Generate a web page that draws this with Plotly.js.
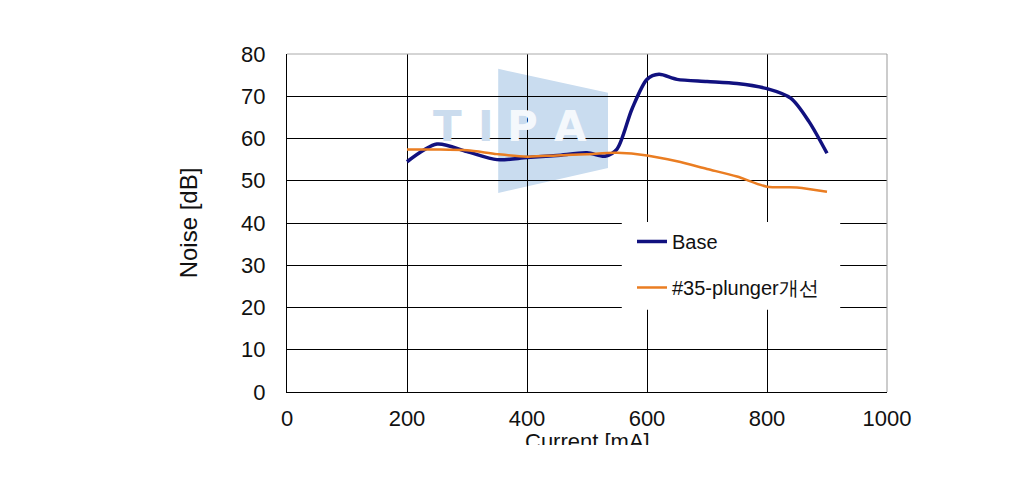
<!DOCTYPE html>
<html>
<head>
<meta charset="utf-8">
<script src="https://cdn.plot.ly/plotly-3.0.1.min.js"></script>
<style>
  html, body { margin: 0; padding: 0; background: #fff; }
  /* la imagen original corta el título del eje X por abajo */
  #wrap { width: 1027px; height: 445px; overflow: hidden; }
  #chart { width: 1027px; height: 481px; }
</style>
</head>
<body>
<div id="wrap"><div id="chart"></div></div>
<script>
// === Datos ===
const baseCurrent = [200, 250, 300, 350, 400, 450, 500, 530, 550, 575, 600, 620, 650, 700, 750, 800, 840, 870, 900];
const baseNoise   = [54.5, 58.7, 56.9, 55.0, 55.5, 56.0, 56.6, 55.8, 57.5, 67.0, 74.0, 75.2, 74.0, 73.5, 73.0, 71.8, 69.5, 64.0, 56.5];

const plungerCurrent = [200, 250, 300, 350, 400, 450, 500, 550, 600, 650, 700, 750, 800, 850, 900];
const plungerNoise   = [57.4, 57.4, 57.2, 56.3, 55.7, 56.0, 56.3, 56.6, 56.0, 54.6, 52.8, 51.0, 48.6, 48.4, 47.4];

const seriesNames = ["Base", "#35-plunger개선"];
const xTicks = [0, 200, 400, 600, 800, 1000];
const yTicks = [0, 10, 20, 30, 40, 50, 60, 70, 80];

const font = "Liberation Sans, Arial, sans-serif";

const traces = [
  {
    x: baseCurrent, y: baseNoise, name: seriesNames[0], legendgroup: "a",
    mode: "lines", line: { color: "#11117f", width: 3.5, shape: "spline", smoothing: 0.8 }
  },
  {
    x: plungerCurrent, y: plungerNoise, name: seriesNames[1], legendgroup: "b",
    mode: "lines", line: { color: "#ea7d22", width: 2.5, shape: "spline", smoothing: 0.8 }
  }
];

// letras de la marca de agua
const wm = (ch, x, color) => ({
  xref: "paper", yref: "paper", x: x, y: 0.785, yanchor: "middle", showarrow: false,
  text: "<b>" + ch + "</b>",
  font: { family: "DejaVu Sans, sans-serif", size: 42, color: color }
});

const layout = {
  width: 1027,
  height: 481,
  margin: { l: 287, r: 140, t: 54, b: 89 },
  paper_bgcolor: "#fff",
  plot_bgcolor: "rgba(0,0,0,0)",
  font: { family: font, color: "#111", size: 22 },
  showlegend: true,
  legend: {
    x: 0.575, y: 0.503, xanchor: "left", yanchor: "top",
    bgcolor: "rgba(0,0,0,0)", borderwidth: 0,
    font: { family: font, size: 20, color: "#111" },
    tracegroupgap: 17, itemwidth: 30
  },
  xaxis: {
    range: [0, 1000], tickvals: xTicks,
    ticks: "outside", ticklen: 7, tickcolor: "rgba(0,0,0,0)",
    showgrid: true, gridcolor: "#000", gridwidth: 1,
    showline: true, linecolor: "#000", linewidth: 1,
    zeroline: false, fixedrange: true,
    tickfont: { family: font, size: 22 }
  },
  yaxis: {
    range: [0, 80], tickvals: yTicks,
    ticks: "outside", ticklen: 16, tickcolor: "rgba(0,0,0,0)",
    showgrid: true, gridcolor: "#000", gridwidth: 1,
    showline: true, linecolor: "#000", linewidth: 1,
    zeroline: false, fixedrange: true,
    tickfont: { family: font, size: 22 },
    title: { text: "Noise [dB]", font: { family: font, size: 24 }, standoff: 36 }
  },
  shapes: [
    // marca de agua (logo)
    {
      type: "path", xref: "paper", yref: "paper", layer: "below",
      path: "M 0.352 0.956 L 0.535 0.885 L 0.535 0.663 L 0.352 0.589 Z",
      fillcolor: "#c9dcef", line: { width: 0 }
    },
    // caja blanca de la leyenda
    {
      type: "rect", xref: "paper", yref: "paper", layer: "above",
      x0: 0.558, x1: 0.922, y0: 0.243, y1: 0.503,
      fillcolor: "#fff", line: { width: 0 }
    },
    // borde superior y derecho gris
    { type: "line", xref: "paper", yref: "paper", x0: 0, x1: 1, y0: 1, y1: 1, line: { color: "#aaa", width: 1 } },
    { type: "line", xref: "paper", yref: "paper", x0: 1, x1: 1, y0: 0, y1: 1, line: { color: "#999", width: 1 } }
  ],
  annotations: [
    wm("T", 0.24, "#cbdcee"),
    wm("I", 0.315, "#cbdcee"),
    wm("P", 0.393, "#f4f8fc"),
    wm("A", 0.472, "#f4f8fc"),
    // título del eje X (cortado por abajo como en el original)
    {
      xref: "paper", yref: "paper", x: 0.5, y: -0.147, yanchor: "middle", showarrow: false,
      text: "Current [mA]", font: { family: font, size: 22, color: "#111" }
    }
  ]
};

Plotly.newPlot("chart", traces, layout, { displayModeBar: false, staticPlot: true });
</script>
</body>
</html>
